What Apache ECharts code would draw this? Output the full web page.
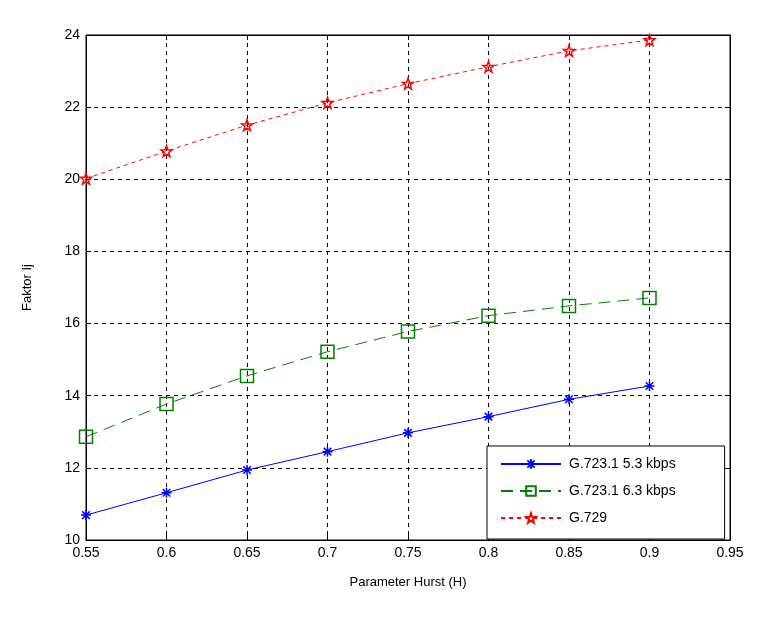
<!doctype html>
<html>
<head>
<meta charset="utf-8">
<title>Faktor Ij</title>
<script src="https://cdn.jsdelivr.net/npm/echarts@6/dist/echarts.min.js"></script>
<style>
  body { margin: 0; background: #fff; }
  #chart { width: 773px; height: 625px; }
</style>
</head>
<body>
<div id="chart"></div>
<script>
// data
var hurst = [0.55, 0.6, 0.65, 0.7, 0.75, 0.8, 0.85, 0.9];
var g7231_53 = [10.69, 11.31, 11.94, 12.45, 12.97, 13.42, 13.9, 14.27];
var g7231_63 = [12.86, 13.77, 14.55, 15.22, 15.78, 16.22, 16.49, 16.71];
var g729 = [20.02, 20.78, 21.5, 22.12, 22.65, 23.12, 23.56, 23.86];
var names = ['G.723.1 5.3 kbps', 'G.723.1 6.3 kbps', 'G.729'];

function pairs(ys) {
    return hurst.map(function (x, i) { return [x, ys[i]]; });
}

var font = 'Liberation Sans';
var asterisk = 'path://M0,-6L0,6M-6,0L6,0M-4.5,-4.5L4.5,4.5M-4.5,4.5L4.5,-4.5';
var star = 'path://M0,-10L2.35,-3.24L9.51,-3.09L3.8,1.24L5.88,8.09L0,4L-5.88,8.09L-3.8,1.24L-9.51,-3.09L-2.35,-3.24Z';

var gridLine = { show: true, lineStyle: { color: '#000', type: [4, 4], width: 1 } };

var myChart = echarts.init(document.getElementById('chart'));
var option = {
    animation: false,
    backgroundColor: '#fff',
    grid: { left: 86, top: 35, width: 644, height: 505, show: true, borderColor: '#000', borderWidth: 1 },
    xAxis: [{
        type: 'value', min: 0.55, max: 0.95, interval: 0.05,
        name: 'Parameter Hurst (H)', nameLocation: 'middle', nameGap: 36,
        nameTextStyle: { fontFamily: font, fontSize: 13, color: '#000' },
        axisLine: { lineStyle: { color: '#000' } },
        axisTick: { inside: true, length: 5, lineStyle: { color: '#000' } },
        axisLabel: { fontFamily: font, fontSize: 14, color: '#000', margin: 6,
            formatter: function (v) { return String(Math.round(v * 100) / 100); } },
        splitLine: gridLine
    }, {
        type: 'value', position: 'top', min: 0.55, max: 0.95, interval: 0.05,
        axisLine: { show: true, lineStyle: { color: '#000' } },
        axisTick: { inside: true, length: 5, lineStyle: { color: '#000' } },
        axisLabel: { show: false }, splitLine: { show: false }
    }],
    yAxis: [{
        type: 'value', min: 10, max: 24, interval: 2,
        name: 'Faktor Ij', nameLocation: 'middle', nameGap: 52,
        nameTextStyle: { fontFamily: font, fontSize: 13, color: '#000' },
        axisLine: { show: true, lineStyle: { color: '#000' } },
        axisTick: { show: true, inside: true, length: 5, lineStyle: { color: '#000' } },
        axisLabel: { fontFamily: font, fontSize: 14, color: '#000', margin: 6 },
        splitLine: gridLine
    }, {
        type: 'value', position: 'right', min: 10, max: 24, interval: 2,
        axisLine: { show: true, lineStyle: { color: '#000' } },
        axisTick: { show: true, inside: true, length: 5, lineStyle: { color: '#000' } },
        axisLabel: { show: false }, splitLine: { show: false }
    }],
    legend: {
        orient: 'vertical', left: 487, top: 446,
        padding: [10, 49, 13, 13], itemGap: 11,
        backgroundColor: '#fff', borderColor: '#000', borderWidth: 1,
        itemWidth: 60, itemHeight: 12,
        textStyle: { fontFamily: font, fontSize: 14, color: '#000', padding: [0, 0, 0, 3], lineHeight: 16 },
        data: names
    },
    series: [{
        name: names[0], type: 'line', data: pairs(g7231_53),
        symbol: asterisk, symbolSize: 10,
        lineStyle: { color: '#0000ff', width: 1 },
        itemStyle: { color: '#0000ff', borderColor: '#0000ff', borderWidth: 1.5 }
    }, {
        name: names[1], type: 'line', data: pairs(g7231_63),
        symbol: 'rect', symbolSize: 13,
        lineStyle: { color: '#008000', width: 1, type: [12, 7] },
        itemStyle: { color: 'rgba(0,0,0,0)', borderColor: '#008000', borderWidth: 1.5 }
    }, {
        name: names[2], type: 'line', data: pairs(g729),
        symbol: star, symbolSize: 11,
        lineStyle: { color: '#ff0000', width: 1, type: [4, 4] },
        itemStyle: { color: 'rgba(0,0,0,0)', borderColor: '#ff0000', borderWidth: 1.5 }
    }]
};
myChart.setOption(option);
</script>
</body>
</html>
